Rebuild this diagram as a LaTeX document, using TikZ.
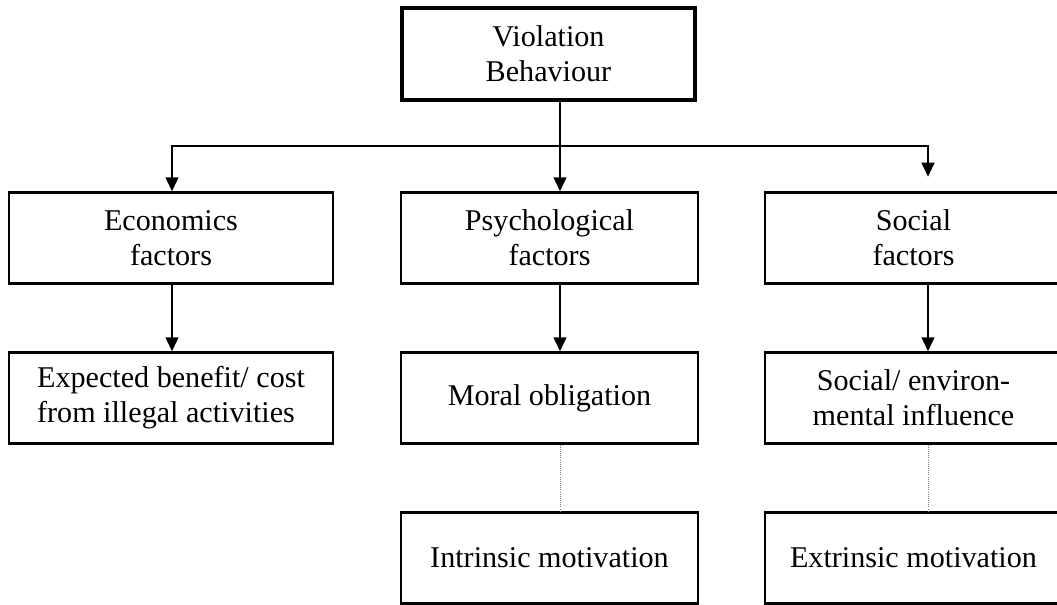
\documentclass[tikz,border=0pt]{standalone}
\usepackage{fontspec}
\setmainfont{Liberation Serif}
\usetikzlibrary{arrows.meta}

\begin{document}
\begin{tikzpicture}[x=0.75pt,y=-0.75pt,
  box/.style={draw,line width=1.7pt,minimum width=222.75pt,minimum height=68.25pt,
    inner sep=0pt,align=center,font=\fontsize{22.6}{26.25}\selectfont},
  topbox/.style={box,line width=2.7pt,minimum width=219.75pt,minimum height=69pt},
  widebox/.style={box,minimum width=243pt},
  link/.style={line width=1.6pt,-{Triangle[length=10.5pt,width=9.5pt]}},
  tie/.style={densely dotted,line width=0.6pt,gray}]

\useasboundingbox (0,0) rectangle (1057,605);

% Niveau 1
\node[topbox] (viol) at (548.5,54) {Violation\\Behaviour};

% Niveau 2
\node[widebox] (econ) at (171,238) {Economics\\factors};
\node[box] (psych) at (549.5,238) {Psychological\\factors};
\node[box] (social) at (913.5,238) {Social\\factors};

% Niveau 3
\node[widebox,align=left] (benefit) at (171,398) {Expected benefit/ cost\\from illegal activities};
\node[box] (moral) at (549.5,398) {Moral obligation};
\node[box] (environ) at (913.5,398) {Social/ environ-\\mental influence};

% Niveau 4
\node[box] (intrinsic) at (549.5,558) {Intrinsic motivation};
\node[box] (extrinsic) at (913.5,558) {Extrinsic motivation};

% Branchement
\coordinate (busL) at (172,146);
\coordinate (busM) at (560,146);
\coordinate (busR) at (928,146);

\draw[link] (viol.south -| busM) -- (psych.north -| busM);
\draw[link] (busM) -- (busL) -- (econ.north -| busL);
\draw[link,shorten >=11pt] (busM) -- (busR) -- (social.north -| busR);

\draw[link] (econ.south -| busL) -- (benefit.north -| busL);
\draw[link] (psych.south -| busM) -- (moral.north -| busM);
\draw[link] (social.south -| busR) -- (environ.north -| busR);

\draw[tie] (moral.south -| busM) -- (intrinsic.north -| busM);
\draw[tie] (environ.south -| busR) -- (extrinsic.north -| busR);

\end{tikzpicture}
\end{document}
